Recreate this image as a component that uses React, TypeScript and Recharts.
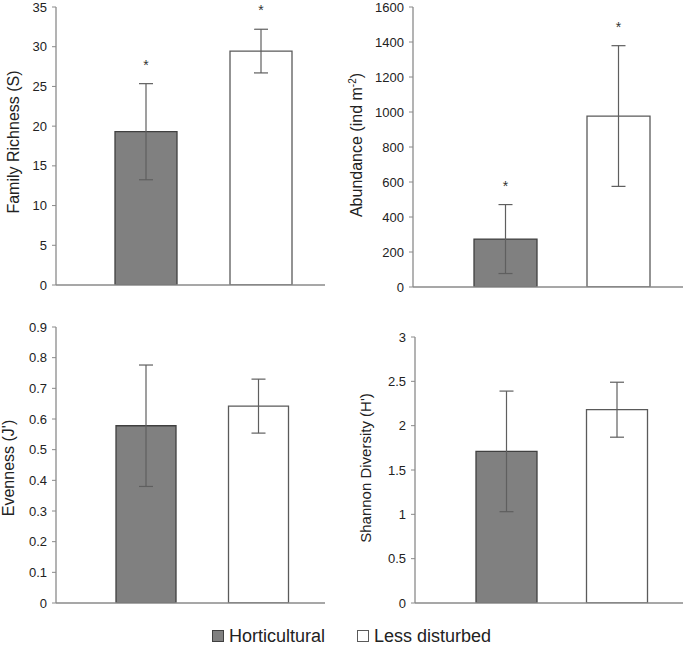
import React from "react";
import { BarChart, Bar, XAxis, YAxis, ErrorBar, Cell, LabelList } from "recharts";

const groups = ["Horticultural", "Less disturbed"];
const fills = ["#808080", "#ffffff"];
const strokes = ["#404040", "#5a5a5a"];

const richness = [19.3, 29.45];
const richnessSd = [6.05, 2.75];
const richnessTicks = [0, 5, 10, 15, 20, 25, 30, 35];

const abundance = [274, 977];
const abundanceSd = [197, 402];
const abundanceTicks = [0, 200, 400, 600, 800, 1000, 1200, 1400, 1600];

const evenness = [0.578, 0.642];
const evennessSd = [0.198, 0.088];
const evennessTicks = [0, 0.1, 0.2, 0.3, 0.4, 0.5, 0.6, 0.7, 0.8, 0.9];

const shannon = [1.71, 2.18];
const shannonSd = [0.68, 0.31];
const shannonTicks = [0, 0.5, 1, 1.5, 2, 2.5, 3];

const richnessStars = [true, true];
const abundanceStars = [true, true];
const noStars = [false, false];

const font = "'Liberation Sans', Arial, sans-serif";

type PanelProps = {
  left: number;
  top: number;
  width: number;
  height: number;
  margin: { top: number; right: number; bottom: number; left: number };
  yWidth: number;
  padding: { left: number; right: number };
  barSize: number;
  ticks: number[];
  values: number[];
  sds: number[];
  stars: boolean[];
  label: React.ReactNode;
  labelX: number;
  labelY: number;
  labelSize: number;
};

function Panel(p: PanelProps) {
  const data = groups.map((g, i) => ({ name: g, value: p.values[i], sd: p.sds[i] }));

  const star = (props: any) => {
    const { x, y, width, height, index } = props;
    if (!p.stars[index]) return null;
    const scale = height / p.values[index];
    const errTop = y - p.sds[index] * scale;
    return (
      <text x={x + width / 2} y={errTop - 14} textAnchor="middle" fontSize={14} fill="#333" fontFamily={font}>
        *
      </text>
    );
  };

  return (
    <div style={{ position: "absolute", left: p.left, top: p.top }}>
      <BarChart width={p.width} height={p.height} data={data} margin={p.margin}>
        <XAxis
          dataKey="name"
          tick={false}
          tickLine={false}
          height={1}
          padding={p.padding}
          axisLine={{ stroke: "#8a8a8a", strokeWidth: 1.3 }}
        />
        <YAxis
          width={p.yWidth}
          domain={[p.ticks[0], p.ticks[p.ticks.length - 1]]}
          ticks={p.ticks}
          interval={0}
          tickSize={4}
          tickMargin={5}
          axisLine={{ stroke: "#8a8a8a", strokeWidth: 1.3 }}
          tickLine={{ stroke: "#8a8a8a" }}
          tick={{ fill: "#222", fontSize: 13, fontFamily: font }}
          allowDataOverflow
        />
        <Bar dataKey="value" barSize={p.barSize} isAnimationActive={false}>
          {data.map((d, i) => (
            <Cell key={d.name} fill={fills[i]} stroke={strokes[i]} strokeWidth={1.3} />
          ))}
          <ErrorBar dataKey="sd" width={7} stroke="#5f5f5f" strokeWidth={1.2} />
          <LabelList dataKey="value" content={star} />
        </Bar>
      </BarChart>
      <svg
        width={40}
        height={p.height}
        style={{ position: "absolute", left: 0, top: 0, overflow: "visible", pointerEvents: "none" }}
      >
        <text
          x={p.labelX}
          y={p.labelY}
          transform={`rotate(-90 ${p.labelX} ${p.labelY})`}
          textAnchor="middle"
          fontSize={p.labelSize}
          fill="#222"
          fontFamily={font}
        >
          {p.label}
        </text>
      </svg>
    </div>
  );
}

function LegendItem({ fill, stroke, text }: { fill: string; stroke: string; text: string }) {
  return (
    <div style={{ display: "flex", alignItems: "center" }}>
      <div style={{ width: 10, height: 10, background: fill, border: `1px solid ${stroke}`, marginRight: 5 }} />
      <span>{text}</span>
    </div>
  );
}

export default function App() {
  return (
    <div style={{ position: "absolute", left: 0, top: 0, width: 685, height: 645, background: "#fff", fontFamily: font }}>
      <Panel
        left={0}
        top={0}
        width={340}
        height={300}
        margin={{ top: 7, right: 15, bottom: 14, left: 0 }}
        yWidth={56}
        padding={{ left: 32, right: 7 }}
        barSize={62}
        ticks={richnessTicks}
        values={richness}
        sds={richnessSd}
        stars={richnessStars}
        label="Family Richness (S)"
        labelX={19}
        labelY={142}
        labelSize={16}
      />
      <Panel
        left={340}
        top={0}
        width={345}
        height={300}
        margin={{ top: 7, right: 2, bottom: 12, left: 0 }}
        yWidth={73}
        padding={{ left: 36, right: 8 }}
        barSize={63}
        ticks={abundanceTicks}
        values={abundance}
        sds={abundanceSd}
        stars={abundanceStars}
        label={
          <>
            Abundance (ind m
            <tspan fontSize={10} dy={-6}>-2</tspan>
            <tspan dy={6}>)</tspan>
          </>
        }
        labelX={22}
        labelY={145}
        labelSize={16}
      />
      <Panel
        left={0}
        top={310}
        width={340}
        height={300}
        margin={{ top: 17, right: 15, bottom: 6, left: 0 }}
        yWidth={56}
        padding={{ left: 34, right: 10 }}
        barSize={60}
        ticks={evennessTicks}
        values={evenness}
        sds={evennessSd}
        stars={noStars}
        label="Evenness (J')"
        labelX={14}
        labelY={158}
        labelSize={16}
      />
      <Panel
        left={340}
        top={310}
        width={345}
        height={300}
        margin={{ top: 27, right: 2, bottom: 6, left: 0 }}
        yWidth={75}
        padding={{ left: 36, right: 11 }}
        barSize={61}
        ticks={shannonTicks}
        values={shannon}
        sds={shannonSd}
        stars={noStars}
        label="Shannon Diversity (H')"
        labelX={31}
        labelY={158}
        labelSize={15}
      />
      <div
        style={{
          position: "absolute",
          left: 212,
          top: 625,
          display: "flex",
          gap: 32,
          fontSize: 18,
          color: "#222",
          lineHeight: "22px",
        }}
      >
        <LegendItem fill="#808080" stroke="#404040" text="Horticultural" />
        <LegendItem fill="#ffffff" stroke="#5a5a5a" text="Less disturbed" />
      </div>
    </div>
  );
}
